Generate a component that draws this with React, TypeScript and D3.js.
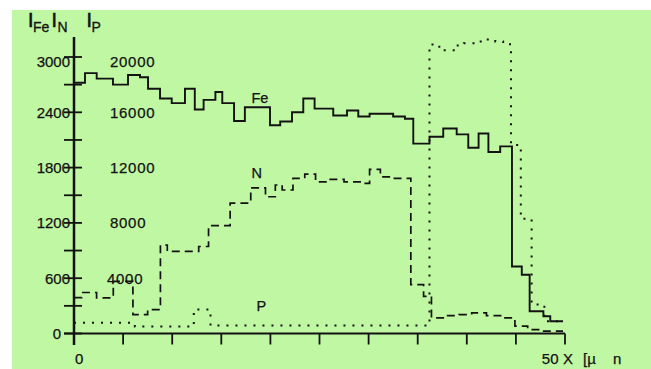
import React from 'react';
import * as d3 from 'd3';

// depth profiles: [x in µm, intensity]
const feProfile: [number, number][] = [
  [0, 2720], [1.12, 2825], [2.31, 2765], [3.97, 2700], [5.5, 2805], [6.72, 2780],
  [7.54, 2655], [8.76, 2550], [9.95, 2500], [11.3, 2655], [12.3, 2430], [13.2, 2535],
  [14.4, 2620], [15.1, 2500], [16.3, 2305], [17.4, 2455], [19.96, 2260], [21.0, 2300],
  [22.2, 2400], [23.35, 2550], [24.5, 2440], [26.4, 2365], [27.8, 2420], [28.95, 2355],
  [30.1, 2385], [32.5, 2355], [33.7, 2330], [34.55, 2060], [36.2, 2135], [37.6, 2225],
  [38.97, 2160], [40.15, 2015], [41.2, 2170], [42.2, 1970], [43.4, 2030], [44.6, 727],
  [45.6, 638], [46.4, 241], [47.8, 187], [48.5, 133], [49.8, 133],
];

const nProfile: [number, number][] = [
  [0, 390], [0.8, 445], [2.3, 386], [4.0, 565], [6.0, 205], [7.5, 260], [8.8, 960],
  [9.5, 890], [12.7, 944], [13.7, 1170], [15.9, 1415], [18.0, 1581], [19.5, 1484],
  [20.5, 1611], [21.2, 1557], [22.3, 1683], [23.5, 1730], [24.6, 1646], [26.0, 1672],
  [27.5, 1646], [29.3, 1629], [30.1, 1780], [31.2, 1700], [32.4, 1683], [34.3, 530],
  [35.6, 403], [36.4, 170], [37.9, 195], [39.2, 205], [40.5, 224], [42.0, 195],
  [43.6, 170], [44.9, 79], [46.2, 43], [47.6, 25], [49.8, 25],
];

const pProfile: [number, number][] = [
  [0, 770], [6.2, 505], [12.2, 1730], [13.9, 577], [36.2, 20900], [37.2, 20480],
  [38.9, 20840], [39.7, 21000], [41.0, 21130], [42.0, 21270], [42.9, 21130],
  [43.7, 21000], [44.4, 20840], [44.5, 13630], [45.5, 8300], [46.6, 2090],
  [47.9, 887], [49.8, 887],
];

const leftTicks = [0, 300, 600, 900, 1200, 1500, 1800, 2100, 2400, 2700, 3000];
const leftLabels = [0, 600, 1200, 1800, 2400, 3000];
const pLabels = [4000, 8000, 12000, 16000, 20000];
const xTicks = [5, 10, 15, 20, 25, 30, 35, 40, 45, 50];

const FONT = '"Liberation Sans", Arial, Helvetica, sans-serif';
const INK = '#121212';

export default function App() {
  const x = d3.scaleLinear().domain([0, 50]).range([74, 565]);
  const yI = d3.scaleLinear().domain([0, 3000]).range([333.5, 57]);
  const yP = d3.scaleLinear().domain([0, 20000]).range([333.5, 57]);

  const stepLine = (y: d3.ScaleLinear<number, number>) =>
    d3.line<[number, number]>()
      .x(d => x(d[0]))
      .y(d => y(d[1]))
      .curve(d3.curveStepAfter);

  const axisY = yI(0);

  return (
    <svg width={651} height={369} style={{ position: 'absolute', left: 0, top: 0, background: '#fff' }}
      fontFamily={FONT}>
      <rect x={12} y={10} width={639} height={359} fill="#c0f7a2" />

      {/* header */}
      <g fill={INK} stroke={INK}>
        <text x={28} y={27} fontSize={19.5} strokeWidth={0.6}>I</text>
        <text x={33} y={32} fontSize={14} strokeWidth={0.3}>Fe</text>
        <text x={51.5} y={27} fontSize={19.5} strokeWidth={0.6}>I</text>
        <text x={57.5} y={32} fontSize={14} strokeWidth={0.3}>N</text>
        <text x={86.5} y={27} fontSize={19.5} strokeWidth={0.6}>I</text>
        <text x={91.5} y={32} fontSize={14} strokeWidth={0.3}>P</text>
      </g>

      {/* y axis */}
      <line x1={74} x2={74} y1={37} y2={345} stroke={INK} strokeWidth={2.5} />
      {leftTicks.map(t => (
        <line key={t} x1={64} x2={82} y1={yI(t)} y2={yI(t)} stroke={INK} strokeWidth={1.8} />
      ))}
      <g fontSize={15} fill={INK} stroke={INK} strokeWidth={0.25}>
        {leftLabels.map(t => (
          <text key={t} x={t === 0 ? 61 : 70} y={yI(t) + (t === 3000 ? 9.5 : 5.5)}
            textAnchor="end">{t}</text>
        ))}
        {pLabels.map(t => (
          <text key={t} x={t === 4000 ? 107 : 110} y={yP(t) + (t === 20000 ? 9.5 : 5.5)}
            letterSpacing={0.7}>{t}</text>
        ))}
      </g>

      {/* x axis */}
      <line x1={64} x2={x(50)} y1={axisY} y2={axisY} stroke={INK} strokeWidth={2} />
      {xTicks.map(t => (
        <line key={t} x1={x(t)} x2={x(t)} y1={axisY} y2={axisY + 11} stroke={INK} strokeWidth={1.8} />
      ))}
      <g fontSize={15} fill={INK} stroke={INK} strokeWidth={0.25}>
        <text x={75} y={364}>0</text>
        <text x={558.5} y={364} textAnchor="end">50</text>
        <text x={563} y={364}>X</text>
        <text x={583} y={364}>[µ</text>
        <text x={613} y={364}>n</text>
      </g>

      {/* profiles */}
      <path d={stepLine(yI)(feProfile) ?? ''} fill="none" stroke={INK} strokeWidth={1.9} />
      <path d={stepLine(yI)(nProfile) ?? ''} fill="none" stroke={INK} strokeWidth={1.7}
        strokeDasharray="8 5" />
      <path d={stepLine(yP)(pProfile) ?? ''} fill="none" stroke={INK} strokeWidth={2}
        strokeDasharray="2 7" />

      <g fontSize={14.5} fill={INK} stroke={INK} strokeWidth={0.25}>
        <text x={251.5} y={103}>Fe</text>
        <text x={251.5} y={177.5}>N</text>
        <text x={256.5} y={310.5}>P</text>
      </g>
    </svg>
  );
}
